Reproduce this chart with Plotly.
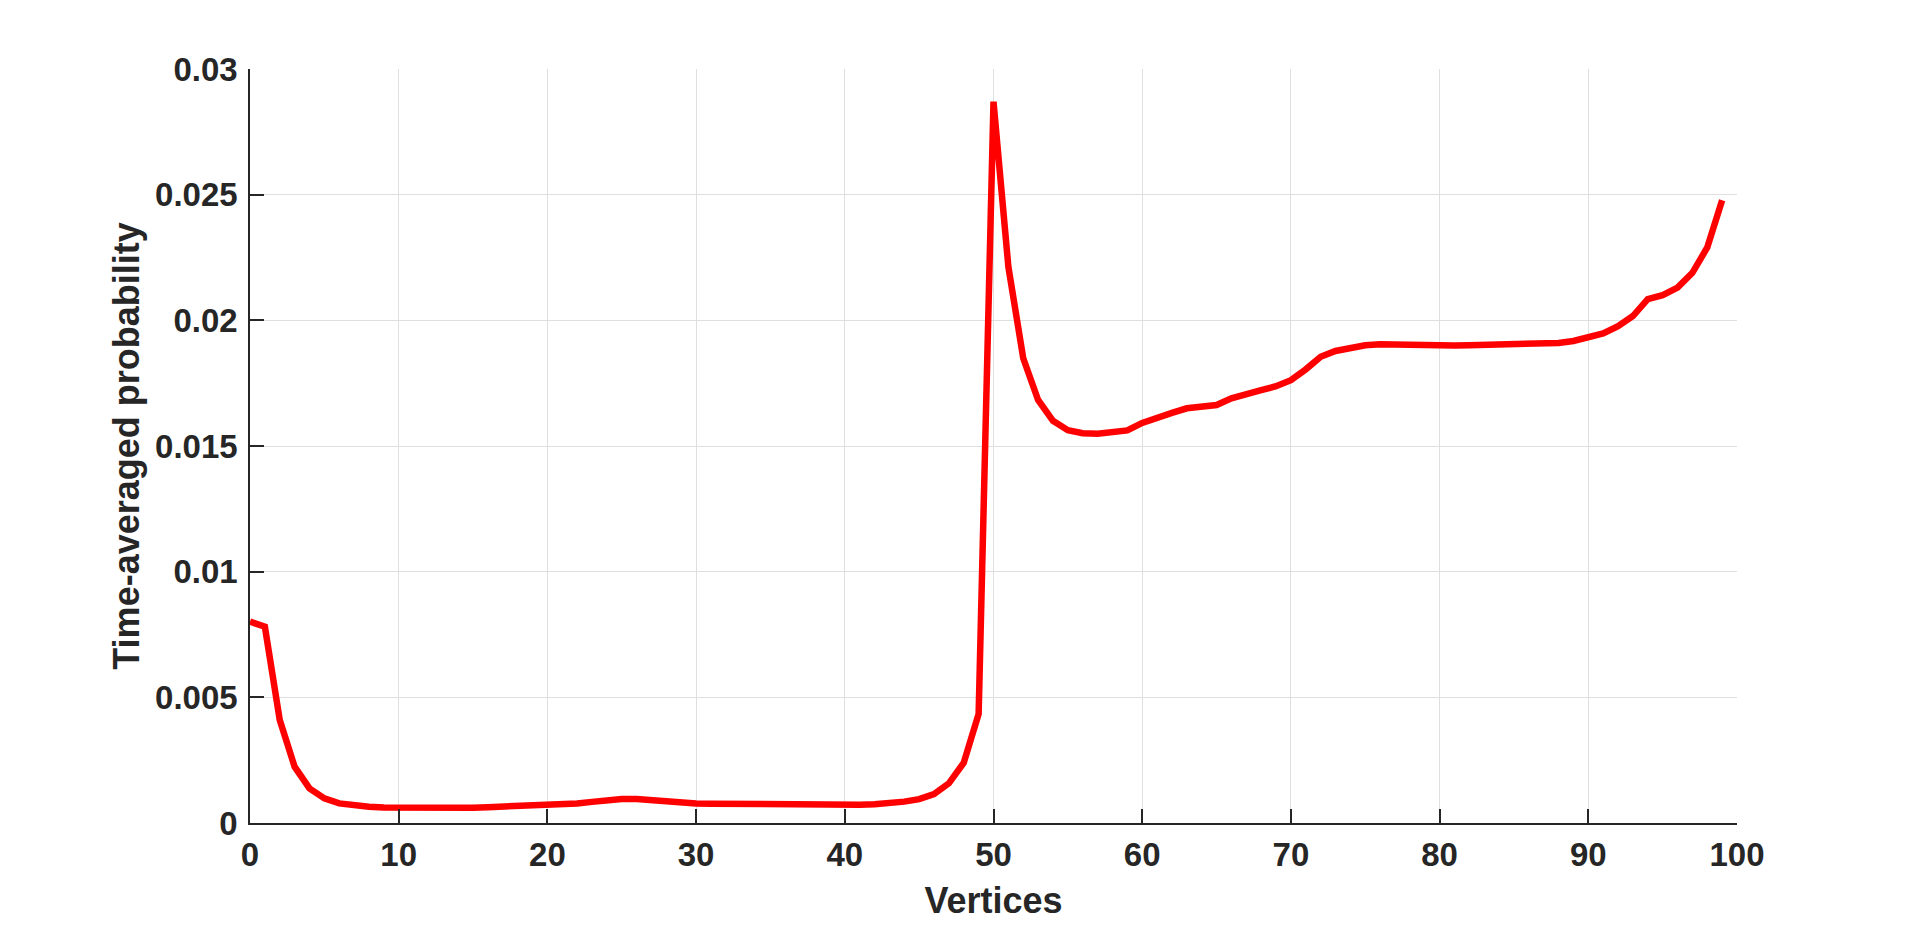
import plotly.graph_objects as go

# Vertex index 0..99 and time-averaged probability
vertices = list(range(100))
probability = [
    0.00801, 0.00781, 0.00410, 0.00224, 0.00138, 0.00098, 0.00078, 0.00069, 0.00065, 0.00062,
    0.00061, 0.00060, 0.00060, 0.00060, 0.00060, 0.00061, 0.00063, 0.00065, 0.00067, 0.00069,
    0.00071, 0.00074, 0.00078, 0.00084, 0.00090, 0.00095, 0.00095, 0.00090, 0.00084, 0.00080,
    0.00078, 0.00077, 0.00076, 0.00075, 0.00074, 0.00073, 0.00072, 0.00072, 0.00072, 0.00072,
    0.00072, 0.00073, 0.00075, 0.00078, 0.00085, 0.00095, 0.00115, 0.00158, 0.00240, 0.00434,
    0.02870, 0.02213, 0.01849, 0.01683, 0.01600, 0.01563, 0.01551, 0.01549, 0.01553, 0.01562,
    0.01592, 0.01614, 0.01632, 0.01650, 0.01655, 0.01663, 0.01690, 0.01703, 0.01722, 0.01738,
    0.01762, 0.01805, 0.01855, 0.01878, 0.01892, 0.01901, 0.01905, 0.01903, 0.01900, 0.01899,
    0.01899, 0.01900, 0.01901, 0.01902, 0.01903, 0.01904, 0.01905, 0.01907, 0.01910, 0.01918,
    0.01935, 0.01948, 0.01977, 0.02017, 0.02084, 0.02100, 0.02130, 0.02189, 0.02290, 0.02478,
]

x_ticks = [0, 10, 20, 30, 40, 50, 60, 70, 80, 90, 100]
y_ticks = [0, 0.005, 0.01, 0.015, 0.02, 0.025, 0.03]
y_tick_labels = ["0", "0.005", "0.01", "0.015", "0.02", "0.025", "0.03"]

text_color = '#262626'
grid_color = '#dfdfdf'
font_family = 'Liberation Sans, Arial, sans-serif'

fig = go.Figure()

fig.add_trace(go.Scatter(
    x=vertices,
    y=probability,
    mode='lines',
    line=dict(color='#ff0000', width=6.5),
    showlegend=False,
    hovertemplate="Vertex %{x}<br>%{y:.5f}<extra></extra>"
))

axis_common = dict(
    showgrid=True,
    gridcolor=grid_color,
    gridwidth=1,
    zeroline=False,
    showline=True,
    linecolor=text_color,
    linewidth=1.5,
    ticks='inside',
    ticklen=14,
    tickwidth=1.5,
    tickcolor=text_color,
    tickfont=dict(family=font_family, size=33, color=text_color, weight='bold'),
)

# page body adds ~8px offset, margins compensate for it
fig.update_layout(
    width=1920,
    height=926,
    margin=dict(l=242, r=191, t=61, b=111, autoexpand=False),
    plot_bgcolor='white',
    paper_bgcolor='white',
    font=dict(family=font_family, color=text_color),
    xaxis=dict(
        range=[0, 100],
        tickvals=x_ticks,
        ticklabelstandoff=2,
        title=dict(text='Vertices', standoff=15,
                   font=dict(family=font_family, size=36, color=text_color, weight='bold')),
        **axis_common
    ),
    yaxis=dict(
        range=[0, 0.03],
        tickvals=y_ticks,
        ticktext=y_tick_labels,
        ticklabelstandoff=4,
        title=dict(text='Time-averaged probability', standoff=4,
                   font=dict(family=font_family, size=36, color=text_color, weight='bold')),
        **axis_common
    ),
)

fig.write_html("out.html")
